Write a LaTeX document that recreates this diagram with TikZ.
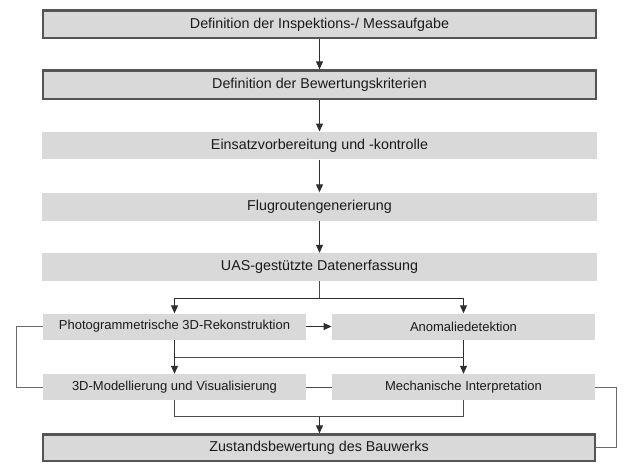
\documentclass[tikz,border=0pt]{standalone}
\usepackage{fontspec}
\setmainfont{Liberation Sans}
\usetikzlibrary{arrows.meta}

\definecolor{boxfill}{HTML}{D9D9D9}
\definecolor{boxedge}{HTML}{555555}
\definecolor{linkcol}{HTML}{2E2E2E}
\definecolor{plaincol}{HTML}{4A4A4A}
\definecolor{loopcol}{HTML}{6A6A6A}
\definecolor{txtcol}{HTML}{1A1A1A}

\tikzset{
  stage/.style={fill=boxfill, inner sep=0pt, text=txtcol,
    font=\fontsize{14.3}{16}\selectfont, anchor=center},
  halfstage/.style={stage, font=\fontsize{13}{15}\selectfont,
    minimum width=263.5pt, minimum height=26pt},
  framed/.style={stage, draw=boxedge, line width=2.2pt},
  flow/.style={draw=linkcol, line width=1pt,
    -{Triangle[width=7pt,length=8pt]}},
  link/.style={draw=plaincol, line width=1pt},
  loop/.style={draw=loopcol, line width=1pt},
}

\begin{document}
\begin{tikzpicture}[x=1pt,y=-1pt]
\useasboundingbox (0,0) rectangle (627,464);

% main sequence
\node[framed, minimum width=552.8pt, minimum height=27.8pt] (def) at (319.5,24.3) {Definition der Inspektions-/ Messaufgabe};
\node[framed, minimum width=552.8pt, minimum height=28.5pt] (crit) at (319.5,84.7) {Definition der Bewertungskriterien};
\node[stage, minimum width=555pt, minimum height=27.6pt] (prep) at (319.5,145.5) {Einsatzvorbereitung und -kontrolle};
\node[stage, minimum width=555pt, minimum height=28pt] (route) at (319.5,206.5) {Flugroutengenerierung};
\node[stage, minimum width=555pt, minimum height=28pt] (uas) at (319.5,267) {UAS-gestützte Datenerfassung};

% parallel processing
\node[halfstage] (photo) at (174.5,326.5) {Photogrammetrische 3D-Rekonstruktion};
\node[halfstage] (anom) at (463.5,326.5) {Anomaliedetektion};
\node[halfstage] (model) at (174.5,387) {3D-Modellierung und Visualisierung};
\node[halfstage] (mech) at (463.5,387) {Mechanische Interpretation};

% result
\node[framed, minimum width=551.8pt, minimum height=26.5pt] (eval) at (319,447.7) {Zustandsbewertung des Bauwerks};

% straight arrows
\draw[flow] (def) -- (crit);
\draw[flow] (crit) -- (prep);
\draw[flow] (prep) -- (route);
\draw[flow] (route) -- (uas);

% branching after data capture
\coordinate (split) at (319.5,298.3);
\draw[link] (uas.south) -- (split);
\draw[flow] (split) -| (photo.north);
\draw[flow] (split) -| (anom.north);
\draw[flow] (photo) -- (anom);

% second row
\draw[flow] (photo) -- (model);
\draw[flow] (anom) -- (mech);
\draw[link] (photo.south |- 0,357) -- (anom.south |- 0,357);
\draw[link] (model) -- (mech);

% merge into assessment
\coordinate (merge) at (319.5,416.7);
\draw[link] (model.south) |- (merge);
\draw[link] (mech.south) |- (merge);
\draw[flow] (merge) -- (eval.north -| merge);

% side loops
\draw[loop] (photo.west) -- ++(-26,0) |- (model.west);
\draw[loop] (mech.east) -- (616.3,387) |- (eval.east);
\end{tikzpicture}
\end{document}
